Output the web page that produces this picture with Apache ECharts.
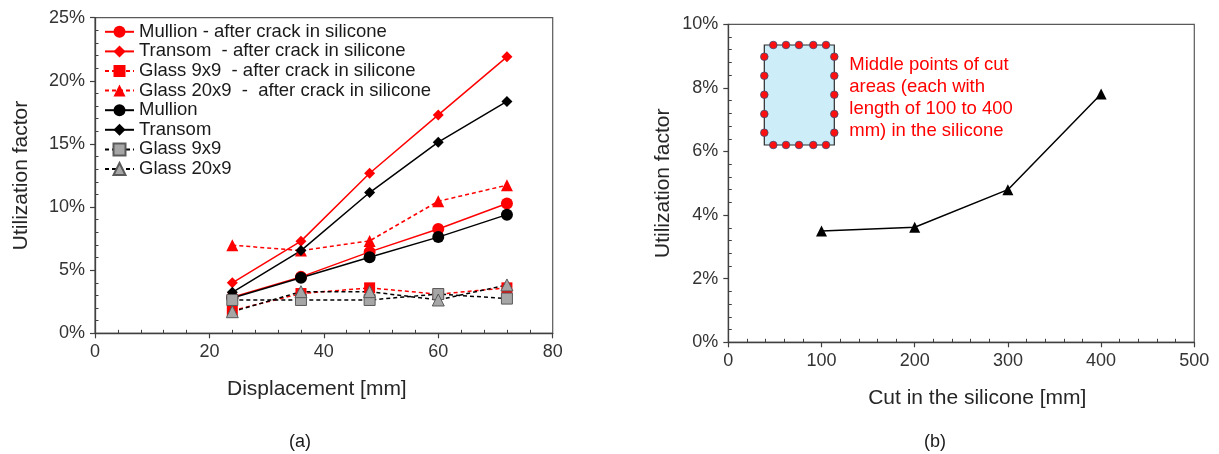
<!DOCTYPE html>
<html>
<head>
<meta charset="utf-8">
<script src="https://cdn.jsdelivr.net/npm/echarts@6/dist/echarts.min.js"></script>
<style>html,body{margin:0;padding:0;background:#fff}#c{width:1219px;height:454px}</style>
</head>
<body>
<div id="c"></div>
<script>
// ---------- Data: chart (a) ----------
const displacement = [24, 36, 48, 60, 72];
const seriesNamesA = [
  'Mullion - after crack in silicone',
  'Transom  - after crack in silicone',
  'Glass 9x9  - after crack in silicone',
  'Glass 20x9  -  after crack in silicone',
  'Mullion',
  'Transom',
  'Glass 9x9',
  'Glass 20x9'
];
const mullionCrack   = [2.85, 4.47, 6.45, 8.26, 10.28];
const transomCrack   = [4.0, 7.3, 12.68, 17.3, 21.9];
const glass9Crack    = [1.8, 3.15, 3.6, 3.1, 3.6];
const glass20Crack   = [6.98, 6.55, 7.32, 10.46, 11.73];
const mullion        = [2.8, 4.4, 6.02, 7.62, 9.4];
const transom        = [3.25, 6.55, 11.15, 15.14, 18.37];
const glass9         = [2.64, 2.64, 2.64, 3.11, 2.75];
const glass20        = [1.71, 3.3, 3.3, 2.64, 3.83];
const yTicksA = { min: 0, max: 25, interval: 5 };
const xTicksA = { min: 0, max: 80, interval: 20 };

// ---------- Data: chart (b) ----------
const cutLength = [100, 200, 300, 400];
const utilCut   = [3.5, 3.62, 4.8, 7.81];
const yTicksB = { min: 0, max: 10, interval: 2 };
const xTicksB = { min: 0, max: 500, interval: 100 };

const noteLines = ['Middle points of cut', 'areas (each with', 'length of 100 to 400', 'mm) in the silicone'];

// ---------- Styling ----------
const FONT = 'Liberation Sans, Arial, sans-serif';
const RED = '#ff0000', BLACK = '#000000', GRAY = '#a6a6a6', GRAYB = '#5a5a5a';
const AXIS_COLOR = '#404040';
const DASH = [4, 3];

function mainAxis(gridIndex, t, extra) {
  return Object.assign({
    type: 'value', gridIndex: gridIndex, min: t.min, max: t.max, interval: t.interval,
    axisLine: { show: true, lineStyle: { color: AXIS_COLOR, width: 1.3 } },
    axisTick: { show: true, inside: false, length: 5, lineStyle: { color: AXIS_COLOR, width: 1.2 } },
    minorTick: { show: false },
    splitLine: { show: false },
    axisLabel: { color: '#333', fontFamily: FONT, fontSize: 18, margin: 10 },
    nameTextStyle: { color: '#262626', fontFamily: FONT, fontSize: 21 }
  }, extra);
}
function minorAxis(gridIndex, t, extra) {
  return Object.assign({
    type: 'value', gridIndex: gridIndex, min: t.min, max: t.max, interval: t.interval,
    axisLine: { show: false },
    axisTick: { show: false, inside: true },
    minorTick: { show: true, splitNumber: 5, length: 3.5, lineStyle: { color: AXIS_COLOR, width: 1 } },
    splitLine: { show: false },
    axisLabel: { show: false }
  }, extra);
}

const pct = v => v + '%';

function lineSeries(name, data, color, dashed, symbol, size, fill, border) {
  return {
    name: name, type: 'line', xAxisIndex: 0, yAxisIndex: 0,
    data: displacement.map((x, i) => [x, data[i]]),
    symbol: symbol, symbolSize: size,
    lineStyle: { color: color, width: 1.5, type: dashed ? DASH : 'solid' },
    itemStyle: { color: fill || color, borderColor: border || fill || color, borderWidth: border ? 1 : 0 },
    emphasis: { disabled: true },
    animation: false
  };
}

const DIAMOND = 'diamond';

const option = {
  animation: false,
  textStyle: { fontFamily: FONT },
  grid: [
    { left: 95, top: 17.7, right: 666.3, bottom: 120.7, show: true, borderColor: '#595959', borderWidth: 1.2, backgroundColor: 'transparent' },
    { left: 728.3, top: 24.3, right: 24.7, bottom: 111.7, show: true, borderColor: '#595959', borderWidth: 1.2, backgroundColor: 'transparent' }
  ],
  xAxis: [
    mainAxis(0, xTicksA, { position: 'bottom', name: 'Displacement [mm]', nameLocation: 'middle', nameGap: 45,
      nameTextStyle: { color: '#262626', fontFamily: FONT, fontSize: 21, padding: [0, 14, 0, 0] } }),
    minorAxis(0, xTicksA, { position: 'bottom' }),
    mainAxis(1, xTicksB, { position: 'bottom', name: 'Cut in the silicone [mm]', nameLocation: 'middle', nameGap: 45,
      nameTextStyle: { color: '#262626', fontFamily: FONT, fontSize: 21, padding: [0, 0, 0, 32] } }),
    minorAxis(1, xTicksB, { position: 'bottom' })
  ],
  yAxis: [
    mainAxis(0, yTicksA, { position: 'left', name: 'Utilization factor', nameLocation: 'middle', nameGap: 63,
      axisLabel: { color: '#333', fontFamily: FONT, fontSize: 18, margin: 10, formatter: pct } }),
    minorAxis(0, yTicksA, { position: 'left' }),
    mainAxis(1, yTicksB, { position: 'left', name: 'Utilization factor', nameLocation: 'middle', nameGap: 55,
      axisLabel: { color: '#333', fontFamily: FONT, fontSize: 18, margin: 10, formatter: pct } }),
    minorAxis(1, yTicksB, { position: 'left' })
  ],
  legend: {
    orient: 'vertical', left: 104, top: 22, padding: 0, itemGap: 0,
    itemWidth: 29, itemHeight: 15,
    data: seriesNamesA,
    selectedMode: false,
    textStyle: { color: '#1a1a1a', fontFamily: FONT, fontSize: 18.5, lineHeight: 19.6 }
  },
  series: [
    lineSeries(seriesNamesA[0], mullionCrack, RED, false, 'circle', 12),
    lineSeries(seriesNamesA[1], transomCrack, RED, false, DIAMOND, 11),
    lineSeries(seriesNamesA[2], glass9Crack, RED, true, 'rect', 11),
    lineSeries(seriesNamesA[3], glass20Crack, RED, true, 'triangle', 12),
    lineSeries(seriesNamesA[4], mullion, BLACK, false, 'circle', 12),
    lineSeries(seriesNamesA[5], transom, BLACK, false, DIAMOND, 11),
    lineSeries(seriesNamesA[6], glass9, BLACK, true, 'rect', 11, GRAY, GRAYB),
    lineSeries(seriesNamesA[7], glass20, BLACK, true, 'triangle', 12, GRAY, GRAYB),
    {
      name: 'Cut', type: 'line', xAxisIndex: 2, yAxisIndex: 2,
      data: cutLength.map((x, i) => [x, utilCut[i]]),
      symbol: 'triangle', symbolSize: 11,
      lineStyle: { color: BLACK, width: 1.5 },
      itemStyle: { color: BLACK },
      emphasis: { disabled: true }
    }
  ],
  graphic: []
};

// Inset illustration (decorative sketch) in chart (b)
(function () {
  const g = [];
  const rx = 764.3, ry = 45, rw = 70, rh = 100;
  g.push({ type: 'rect', shape: { x: rx, y: ry, width: rw, height: rh }, style: { fill: '#cdeef9', stroke: '#2b2b2b', lineWidth: 1.2 }, silent: true });
  const dot = (cx, cy) => ({ type: 'circle', shape: { cx: cx, cy: cy, r: 3.8 }, style: { fill: '#ff1010', stroke: '#3b4a70', lineWidth: 0.8 }, silent: true });
  [773.3, 786, 799, 813.3, 826].forEach(x => { g.push(dot(x, ry)); g.push(dot(x, ry + rh)); });
  [56.7, 75.7, 94.7, 114, 132.7].forEach(y => { g.push(dot(rx, y)); g.push(dot(rx + rw, y)); });
  g.push({ type: 'text', left: 849.3, top: 53.5, silent: true,
    style: { text: noteLines.join('\n'), fill: RED, font: '18.5px ' + FONT, lineHeight: 22.1 } });
  g.push({ type: 'text', x: 300, y: 441.7, silent: true,
    style: { text: '(a)', fill: '#1a1a1a', font: '18px ' + FONT, align: 'center', verticalAlign: 'middle' } });
  g.push({ type: 'text', x: 935, y: 441.7, silent: true,
    style: { text: '(b)', fill: '#1a1a1a', font: '18px ' + FONT, align: 'center', verticalAlign: 'middle' } });
  option.graphic = g;
})();

const chart = echarts.init(document.getElementById('c'), null, { renderer: 'canvas' });
chart.setOption(option);
</script>
</body>
</html>
